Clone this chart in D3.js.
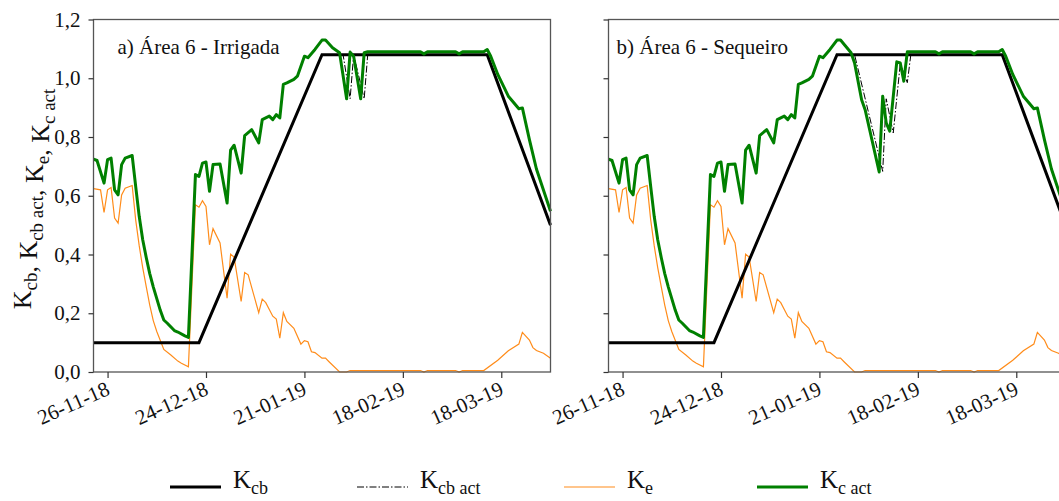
<!DOCTYPE html>
<html>
<head>
<meta charset="utf-8">
<script src="https://d3js.org/d3.v7.min.js"></script>
<style>
body { margin: 0; background: #fff; }
.frame { fill: none; stroke: #555; stroke-width: 1.3; }
.axis path { display: none; }
.axis line { stroke: #333; stroke-width: 1.2; }
.axis text { font-family: "Liberation Serif", serif; font-size: 21px; fill: #111; }
.panel-label { font-size: 21px; fill: #111; }
</style>
</head>
<body>
<svg width="1059" height="501" font-family="Liberation Serif, serif"></svg>
<script>

// season axis
var xStart = "2018-11-22", xEnd = "2019-04-01";
var xTicks = ["2018-11-26", "2018-12-24", "2019-01-21", "2019-02-18", "2019-03-18"];
var yTicks = [0, 0.2, 0.4, 0.6, 0.8, 1.0, 1.2];

// basal crop coefficient (same in both areas)
var kcb = [["2018-11-22",0.1],["2018-12-22",0.1],["2019-01-26",1.08],["2019-03-14",1.08],["2019-04-01",0.5]];

// evaporation coefficient (same in both areas)
var ke = [
  ["2018-11-22",0.624],["2018-11-24",0.62],["2018-11-25",0.543],["2018-11-26",0.62],["2018-11-27",0.628],
  ["2018-11-28",0.524],["2018-11-29",0.507],["2018-11-30",0.603],["2018-12-01",0.626],["2018-12-03",0.635],
  ["2018-12-04",0.518],["2018-12-05",0.43],["2018-12-06",0.355],["2018-12-07",0.291],["2018-12-08",0.228],
  ["2018-12-09",0.175],["2018-12-10",0.138],["2018-12-12",0.077],["2018-12-14",0.058],["2018-12-16",0.037],
  ["2018-12-17",0.03],["2018-12-19",0.018],["2018-12-21",0.569],["2018-12-22",0.561],["2018-12-23",0.583],
  ["2018-12-24",0.564],["2018-12-25",0.433],["2018-12-26",0.488],["2018-12-28",0.439],["2018-12-30",0.251],
  ["2018-12-31",0.401],["2019-01-01",0.391],["2019-01-03",0.24],["2019-01-04",0.339],["2019-01-05",0.331],
  ["2019-01-08",0.202],["2019-01-09",0.248],["2019-01-10",0.236],["2019-01-12",0.19],["2019-01-13",0.18],
  ["2019-01-14",0.115],["2019-01-15",0.202],["2019-01-16",0.172],["2019-01-18",0.149],["2019-01-20",0.095],
  ["2019-01-21",0.107],["2019-01-22",0.103],["2019-01-23",0.069],["2019-01-24",0.066],["2019-01-26",0.047],
  ["2019-01-27",0.047],["2019-01-28",0.035],["2019-01-31",0.0],["2019-02-02",0.0],["2019-02-03",0.005],
  ["2019-02-23",0.005],["2019-02-24",0.0],["2019-02-25",0.005],["2019-03-05",0.005],["2019-03-06",0.0],
  ["2019-03-07",0.005],["2019-03-13",0.005],["2019-03-17",0.04],["2019-03-20",0.072],["2019-03-23",0.095],
  ["2019-03-24",0.135],["2019-03-26",0.109],["2019-03-27",0.083],["2019-03-28",0.073],["2019-03-30",0.064],
  ["2019-04-01",0.047]
];

// actual basal coefficient
var kcbActA = [["2018-11-22",0.1],["2018-12-22",0.1],["2019-01-26",1.08],["2019-02-01",1.08],["2019-02-03",0.93],
  ["2019-02-04",1.08],["2019-02-07",0.93],["2019-02-08",1.08],["2019-03-14",1.08],["2019-04-01",0.5]];
var kcbActB = [["2018-11-22",0.1],["2018-12-22",0.1],["2019-01-26",1.08],["2019-01-31",1.08],["2019-02-08",0.683],
  ["2019-02-09",0.93],["2019-02-11",0.814],["2019-02-13",1.05],["2019-02-15",0.985],["2019-02-16",1.08],
  ["2019-03-14",1.08],["2019-04-01",0.5]];

// actual crop coefficient, irrigated
var kcActA = [
  ["2018-11-22",0.725],["2018-11-23",0.72],["2018-11-25",0.643],["2018-11-26",0.723],["2018-11-27",0.728],
  ["2018-11-28",0.62],["2018-11-29",0.603],["2018-11-30",0.706],["2018-12-01",0.728],["2018-12-03",0.737],
  ["2018-12-04",0.632],["2018-12-05",0.53],["2018-12-06",0.45],["2018-12-07",0.39],["2018-12-08",0.335],
  ["2018-12-09",0.29],["2018-12-10",0.25],["2018-12-11",0.21],["2018-12-12",0.177],["2018-12-13",0.166],
  ["2018-12-15",0.141],["2018-12-16",0.136],["2018-12-18",0.123],["2018-12-19",0.118],["2018-12-21",0.672],
  ["2018-12-22",0.666],["2018-12-23",0.711],["2018-12-24",0.715],["2018-12-25",0.615],["2018-12-26",0.706],
  ["2018-12-28",0.708],["2018-12-30",0.575],["2018-12-31",0.755],["2019-01-01",0.772],["2019-01-03",0.677],
  ["2019-01-04",0.805],["2019-01-06",0.825],["2019-01-08",0.78],["2019-01-09",0.859],["2019-01-11",0.871],
  ["2019-01-12",0.859],["2019-01-13",0.876],["2019-01-14",0.865],["2019-01-15",0.979],["2019-01-16",0.984],
  ["2019-01-18",0.996],["2019-01-19",1.007],["2019-01-21",1.075],["2019-01-22",1.07],["2019-01-24",1.098],
  ["2019-01-26",1.13],["2019-01-27",1.13],["2019-01-29",1.104],["2019-01-31",1.087],["2019-02-02",0.93],
  ["2019-02-03",1.089],["2019-02-04",1.075],["2019-02-06",0.93],["2019-02-07",1.087],["2019-02-08",1.09],
  ["2019-02-23",1.09],["2019-02-24",1.083],["2019-02-25",1.09],["2019-03-05",1.09],["2019-03-06",1.083],
  ["2019-03-07",1.09],["2019-03-13",1.09],["2019-03-14",1.098],["2019-03-15",1.075],["2019-03-17",1.013],
  ["2019-03-20",0.939],["2019-03-23",0.896],["2019-03-24",0.899],["2019-03-26",0.791],["2019-03-28",0.691],
  ["2019-04-01",0.547]
];

// actual crop coefficient, rainfed
var kcActB = [
  ["2018-11-22",0.725],["2018-11-23",0.72],["2018-11-25",0.643],["2018-11-26",0.723],["2018-11-27",0.728],
  ["2018-11-28",0.62],["2018-11-29",0.603],["2018-11-30",0.706],["2018-12-01",0.728],["2018-12-03",0.737],
  ["2018-12-04",0.632],["2018-12-05",0.53],["2018-12-06",0.45],["2018-12-07",0.39],["2018-12-08",0.335],
  ["2018-12-09",0.29],["2018-12-10",0.25],["2018-12-11",0.21],["2018-12-12",0.177],["2018-12-13",0.166],
  ["2018-12-15",0.141],["2018-12-16",0.136],["2018-12-18",0.123],["2018-12-19",0.118],["2018-12-21",0.672],
  ["2018-12-22",0.666],["2018-12-23",0.711],["2018-12-24",0.715],["2018-12-25",0.615],["2018-12-26",0.706],
  ["2018-12-28",0.708],["2018-12-30",0.575],["2018-12-31",0.755],["2019-01-01",0.772],["2019-01-03",0.677],
  ["2019-01-04",0.805],["2019-01-06",0.825],["2019-01-08",0.78],["2019-01-09",0.859],["2019-01-11",0.871],
  ["2019-01-12",0.859],["2019-01-13",0.876],["2019-01-14",0.865],["2019-01-15",0.979],["2019-01-16",0.984],
  ["2019-01-18",0.996],["2019-01-19",1.007],["2019-01-21",1.075],["2019-01-22",1.07],["2019-01-24",1.098],
  ["2019-01-26",1.13],["2019-01-27",1.13],["2019-01-30",1.087],["2019-01-31",1.052],["2019-02-02",0.927],
  ["2019-02-03",0.893],["2019-02-07",0.681],["2019-02-08",0.939],["2019-02-09",0.848],["2019-02-10",0.82],
  ["2019-02-12",1.056],["2019-02-13",1.052],["2019-02-14",0.99],["2019-02-15",1.09],
  ["2019-02-23",1.09],["2019-02-24",1.083],["2019-02-25",1.09],["2019-03-05",1.09],["2019-03-06",1.083],
  ["2019-03-07",1.09],["2019-03-13",1.09],["2019-03-14",1.098],["2019-03-15",1.075],["2019-03-17",1.013],
  ["2019-03-20",0.939],["2019-03-23",0.896],["2019-03-24",0.899],["2019-03-26",0.791],["2019-03-28",0.691],
  ["2019-04-01",0.547]
];

var panelLabels = ["a) Área 6 - Irrigada", "b) Área 6 - Sequeiro"];

var svg = d3.select("svg");
var parseDate = d3.timeParse("%Y-%m-%d");

var plotW = 457, plotH = 352.5, marginTop = 19.5;
var panelLeft = [93.5, 608.5];

var x = d3.scaleTime()
    .domain([parseDate(xStart), parseDate(xEnd)])
    .range([0, plotW]);

var y = d3.scaleLinear()
    .domain([0, 1.2])
    .range([plotH, 0]);

var line = d3.line()
    .x(function(d) { return x(parseDate(d[0])); })
    .y(function(d) { return y(d[1]); });

var fmt = function(d) { return d3.format(".1f")(d).replace(".", ","); };

var panels = [
  { label: panelLabels[0], kcbAct: kcbActA, kcAct: kcActA },
  { label: panelLabels[1], kcbAct: kcbActB, kcAct: kcActB }
];

panels.forEach(function(p, i) {
  var g = svg.append("g")
      .attr("transform", "translate(" + panelLeft[i] + "," + marginTop + ")");

  g.append("path").datum(ke)
      .attr("fill", "none").attr("stroke", "#ff8c1a").attr("stroke-width", 1.2)
      .attr("d", line);

  g.append("path").datum(kcb)
      .attr("fill", "none").attr("stroke", "#000").attr("stroke-width", 3)
      .attr("d", line);

  g.append("path").datum(p.kcbAct)
      .attr("fill", "none").attr("stroke", "#000").attr("stroke-width", 1)
      .attr("stroke-dasharray", "7,2,1.5,2")
      .attr("d", line);

  g.append("path").datum(p.kcAct)
      .attr("fill", "none").attr("stroke", "#008000").attr("stroke-width", 3)
      .attr("stroke-linejoin", "round")
      .attr("d", line);

  g.append("rect").attr("class", "frame")
      .attr("width", plotW).attr("height", plotH);

  g.append("g").attr("class", "axis")
      .call(d3.axisLeft(y).tickValues(yTicks).tickSize(5).tickPadding(8)
        .tickFormat(i === 0 ? fmt : ""))
      .attr("font-family", null).attr("font-size", null);

  var xa = g.append("g").attr("class", "axis")
      .attr("transform", "translate(0," + plotH + ")")
      .call(d3.axisBottom(x).tickValues(xTicks.map(parseDate)).tickSize(6)
        .tickFormat(d3.timeFormat("%d-%m-%y")))
      .attr("font-family", null).attr("font-size", null);

  xa.selectAll("text")
      .attr("x", null).attr("y", null).attr("dy", null)
      .style("text-anchor", "end")
      .attr("transform", "translate(3,22) rotate(-24)");

  g.selectAll(".axis text").style("font-family", "'Liberation Serif', serif");

  g.append("text").attr("class", "panel-label")
      .attr("x", i === 0 ? 24 : 8).attr("y", 34)
      .text(p.label);
});

// y title with subscripts
var title = svg.append("text")
    .attr("transform", "translate(31,199) rotate(-90)")
    .attr("text-anchor", "middle")
    .style("font-size", "26px").attr("fill", "#111");

var titleParts = [["K", "cb"], [", K", "cb act"], [", K", "e"], [", K", "c act"]];
titleParts.forEach(function(t) {
  title.append("tspan").text(t[0]);
  title.append("tspan").attr("dy", 6).style("font-size", "19px").text(t[1]);
  title.append("tspan").attr("dy", -6).text("");
});

// legend
var legendItems = [
  { x: 170, main: "K", sub: "cb", color: "#000", width: 3, dash: null },
  { x: 357, main: "K", sub: "cb act", color: "#000", width: 1, dash: "7,2,1.5,2" },
  { x: 564, main: "K", sub: "e", color: "#ff8c1a", width: 1.2, dash: null },
  { x: 757, main: "K", sub: "c act", color: "#008000", width: 3, dash: null }
];

var lg = svg.append("g");
legendItems.forEach(function(d) {
  lg.append("line")
      .attr("x1", d.x).attr("x2", d.x + 51)
      .attr("y1", 487).attr("y2", 487)
      .attr("stroke", d.color).attr("stroke-width", d.width)
      .attr("stroke-dasharray", d.dash);
  var t = lg.append("text")
      .attr("x", d.x + 63).attr("y", 488)
      .style("font-size", "25px").attr("fill", "#111");
  t.append("tspan").text(d.main);
  t.append("tspan").attr("dy", 6).style("font-size", "18px").text(d.sub);
});

</script>
</body>
</html>
